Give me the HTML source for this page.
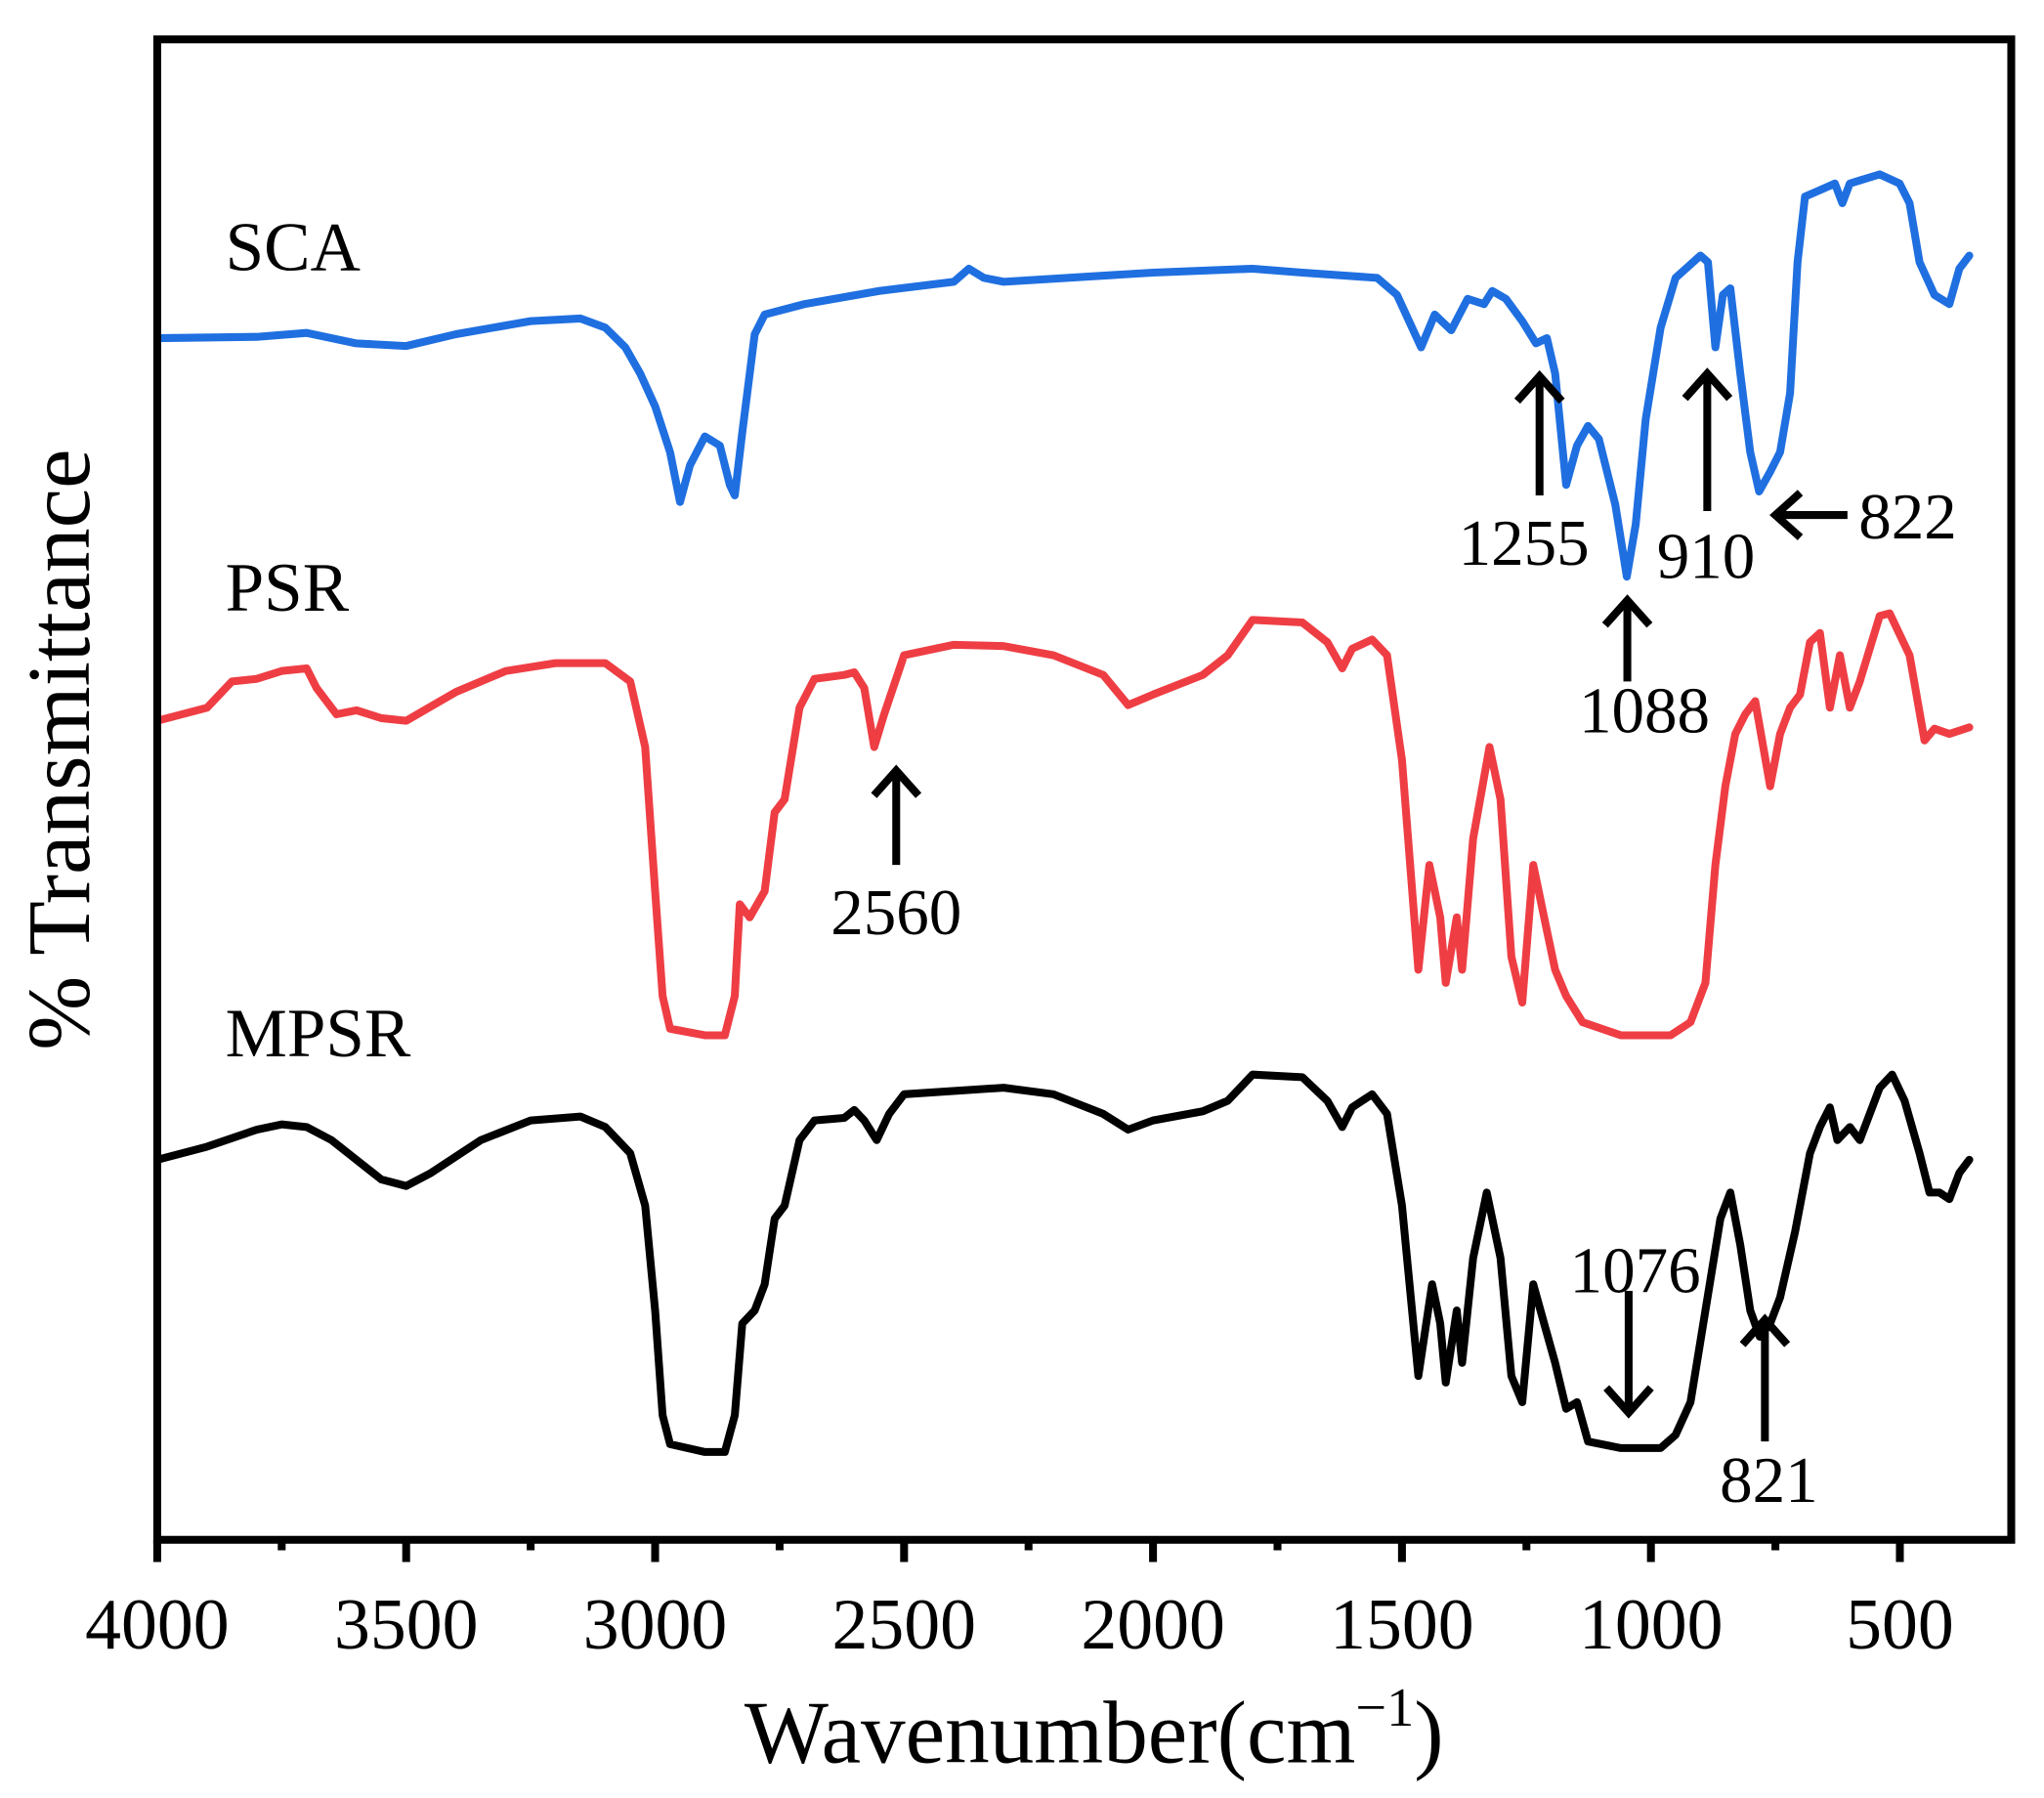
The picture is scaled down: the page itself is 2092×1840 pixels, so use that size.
<!DOCTYPE html>
<html><head><meta charset="utf-8"><style>
html,body{margin:0;padding:0;background:#fff;}
svg{display:block;}
text{font-family:"Liberation Serif",serif;fill:#000;}
</style></head><body>
<svg id="s" width="2092" height="1840" viewBox="0 0 1560 1372" xmlns="http://www.w3.org/2000/svg">
<rect width="1560" height="1372" fill="#fff"/>
<g id="curves" fill="none" stroke-linejoin="round" stroke-linecap="round"></g>
<rect x="120" y="30" width="1415" height="1145" fill="none" stroke="#000" stroke-width="6"/>
<g id="ticks" stroke="#000" stroke-width="6"></g>
<g font-size="55" text-anchor="middle">
<text x="120" y="1258">4000</text><text x="310" y="1258">3500</text><text x="500" y="1258">3000</text>
<text x="690" y="1258">2500</text><text x="880" y="1258">2000</text><text x="1070" y="1258">1500</text>
<text x="1260" y="1258">1000</text><text x="1450" y="1258">500</text>
</g>
<text x="835" y="1345" font-size="68" text-anchor="middle">Wavenumber(cm<tspan font-size="42" dy="-28">−1</tspan><tspan dy="28">)</tspan></text>
<text transform="translate(68,572) rotate(-90)" font-size="68" text-anchor="middle">% Transmittance</text>
<g font-size="53"><text x="172" y="206">SCA</text><text x="172" y="466">PSR</text><text x="172" y="806">MPSR</text></g>
<g font-size="50" text-anchor="middle">
<text x="1163" y="431">1255</text><text x="1255" y="559">1088</text><text x="1302" y="441">910</text>
<text x="1456" y="411">822</text><text x="684" y="713">2560</text><text x="1248" y="986">1076</text>
<text x="1350" y="1146">821</text>
</g>
<g stroke="#000" stroke-width="6" fill="none" stroke-linecap="butt">
<path d="M1175 378V287M1158 306L1175 287L1192 306"/>
<path d="M1242 520V458M1225 477L1242 458L1259 477"/>
<path d="M1303 390V285M1286 304L1303 285L1320 304"/>
<path d="M1410 393H1355M1374 376L1355 393L1374 410"/>
<path d="M684 660V588M667 607L684 588L701 607"/>
<path d="M1243 985V1078M1226 1059L1243 1078L1260 1059"/>
<path d="M1347 1100V1007M1330 1026L1347 1007L1364 1026"/>
</g>
</svg>
<script>
function X(w){var c=w<1500?15*Math.min(1,(1500-w)/400):0;return 120+(4000-w)*0.38+c;}
var sca=[4000,258,3800,257,3700,254,3600,262,3500,264,3400,255,3250,245,3150,243,3100,250,3060,265,3030,285,3000,310,2970,345,2950,383,2930,355,2900,333,2870,340,2850,370,2840,378,2825,330,2800,255,2780,240,2700,232,2550,222,2400,215,2370,205,2340,212,2300,215,2000,208,1800,205,1700,208,1550,212,1510,225,1465,265,1440,240,1410,252,1380,228,1350,232,1335,222,1310,228,1280,245,1255,262,1235,258,1220,285,1200,370,1180,340,1160,325,1140,335,1110,385,1088,440,1070,400,1050,320,1020,250,990,212,940,195,925,200,910,265,895,225,880,220,860,285,840,345,822,375,800,360,780,345,760,300,745,200,730,150,700,145,670,140,655,155,640,140,580,133,540,140,520,155,500,200,470,225,440,232,420,205,400,195];
var psr=[4000,550,3900,540,3850,520,3800,518,3750,512,3700,510,3680,525,3640,545,3600,542,3550,548,3500,550,3400,528,3300,512,3200,506,3100,506,3050,520,3020,570,3000,680,2985,760,2970,785,2900,790,2860,790,2840,760,2830,690,2810,700,2780,680,2760,620,2740,610,2710,540,2680,518,2620,515,2600,513,2580,525,2560,570,2540,545,2500,500,2400,492,2300,493,2200,500,2100,515,2050,538,2000,530,1900,515,1850,500,1800,473,1700,475,1650,490,1620,510,1600,495,1560,488,1530,500,1500,580,1470,740,1450,660,1430,700,1420,750,1400,700,1390,740,1370,640,1340,570,1320,610,1300,730,1280,765,1260,660,1240,700,1220,740,1200,760,1170,780,1100,790,1000,790,960,780,930,750,910,660,890,600,870,560,850,545,830,535,800,600,780,560,760,540,740,530,720,490,700,483,680,540,660,500,640,540,620,520,580,470,560,468,520,500,490,565,470,556,440,560,400,555];
var mp=[4000,885,3900,875,3800,862,3750,858,3700,860,3650,870,3600,885,3550,900,3500,905,3450,895,3350,870,3250,855,3150,852,3100,860,3050,880,3020,920,3000,1000,2985,1080,2970,1102,2900,1108,2860,1108,2840,1080,2825,1010,2800,1000,2780,980,2760,930,2740,920,2710,870,2680,855,2620,853,2600,847,2580,855,2555,870,2530,850,2500,835,2300,830,2200,835,2100,850,2050,862,2000,855,1900,848,1850,840,1800,820,1700,822,1650,840,1620,860,1600,845,1560,835,1530,850,1500,920,1470,1050,1445,980,1430,1010,1420,1055,1400,1000,1390,1040,1370,960,1345,910,1320,960,1300,1050,1280,1070,1260,980,1240,1010,1220,1040,1200,1075,1180,1070,1160,1100,1100,1105,1020,1105,990,1095,960,1070,930,1000,900,930,880,910,860,950,840,1000,821,1020,800,1010,780,990,750,940,720,880,700,860,680,845,665,870,640,860,620,870,580,830,555,820,530,840,500,880,480,910,460,910,440,915,420,895,400,885];
function path(a){var d="";for(var i=0;i<a.length;i+=2){d+=(i?"L":"M")+X(a[i]).toFixed(1)+" "+a[i+1];}return d;}
var g=document.getElementById("curves"),ns="http://www.w3.org/2000/svg";
[[sca,"#1f6fe0"],[psr,"#ee3e44"],[mp,"#000"]].forEach(function(p){var e=document.createElementNS(ns,"path");e.setAttribute("d",path(p[0]));e.setAttribute("stroke",p[1]);e.setAttribute("stroke-width","6");g.appendChild(e);});
var t=document.getElementById("ticks"),d="";
for(var i=0;i<=14;i++){var x=120+i*95;d+="M"+x+" 1175V"+(i%2?1183:1192);}
var e=document.createElementNS(ns,"path");e.setAttribute("d",d);t.appendChild(e);
</script>
</body></html>
